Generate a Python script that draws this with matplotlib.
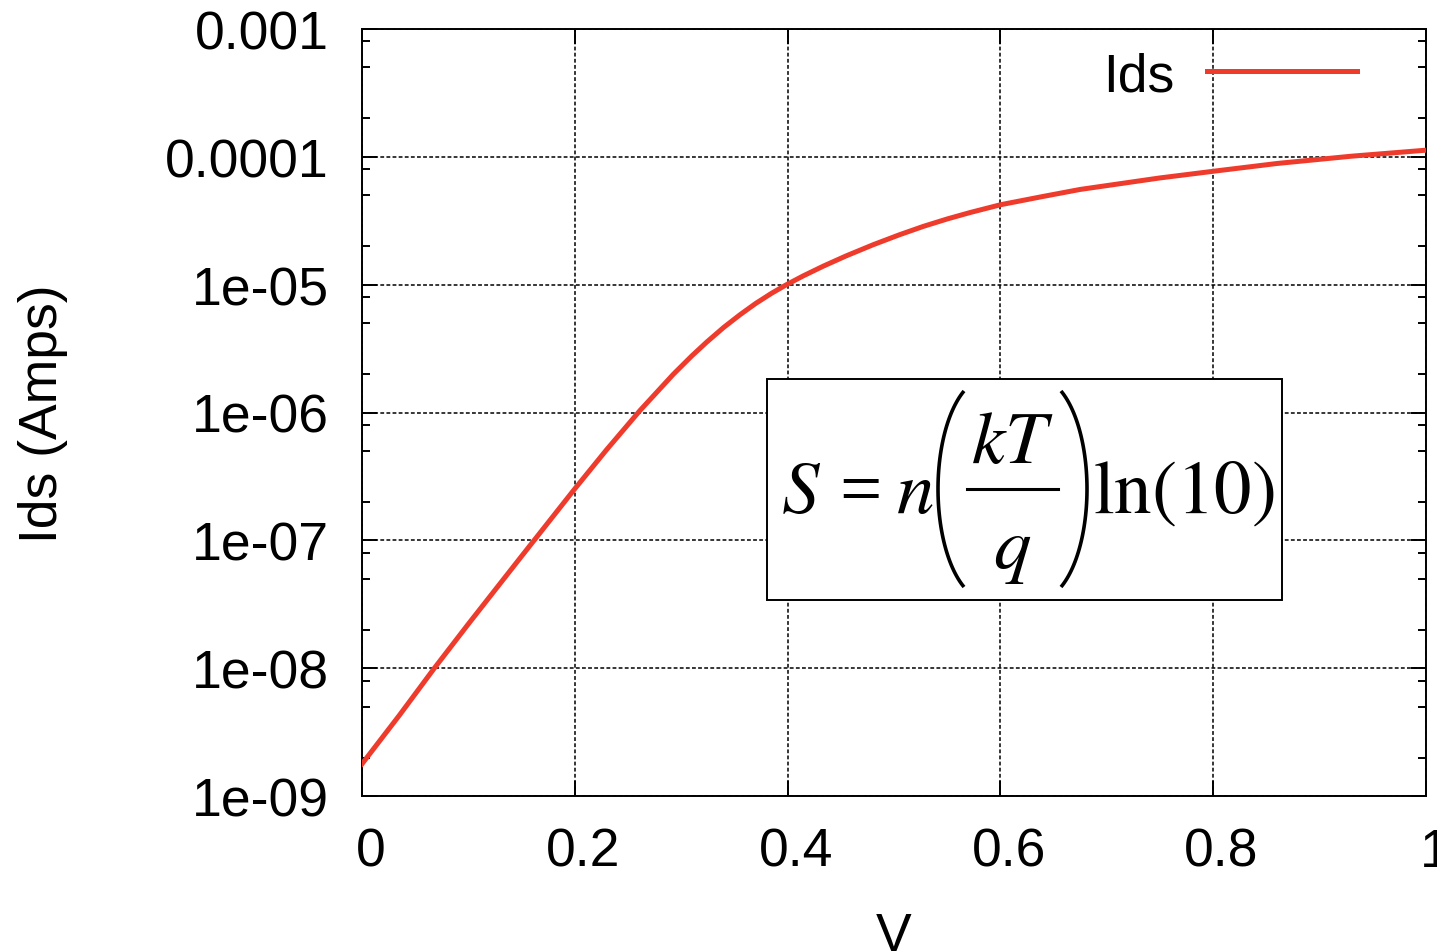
import numpy as np
import matplotlib
matplotlib.use("Agg")
import matplotlib.pyplot as plt
from matplotlib.patches import Rectangle
from matplotlib.lines import Line2D
from matplotlib.transforms import ScaledTranslation
import matplotlib.ticker as mticker

############ Data ############
v = [0.0, 0.035, 0.068, 0.1, 0.15, 0.2, 0.23, 0.2613, 0.2926, 0.31, 0.324,
     0.34, 0.3553, 0.37, 0.385, 0.399, 0.415, 0.4336, 0.455, 0.4806, 0.505,
     0.5276, 0.55, 0.5714, 0.6, 0.64, 0.675, 0.75, 0.8, 0.86, 0.93, 1.0]
log_ids = [-8.749, -8.37, -8.0, -7.654, -7.124, -6.597, -6.29, -5.984, -5.701,
           -5.557, -5.449, -5.334, -5.235, -5.147, -5.067, -5.0, -4.93,
           -4.855, -4.775, -4.687, -4.61, -4.544, -4.486, -4.436, -4.375,
           -4.31, -4.255, -4.165, -4.113, -4.052, -3.995, -3.948]
ids = [10 ** x for x in log_ids]

x_ticks = [0, 0.2, 0.4, 0.6, 0.8, 1]
x_labels = ["0", "0.2", "0.4", "0.6", "0.8", "1"]
y_ticks = [1e-9, 1e-8, 1e-7, 1e-6, 1e-5, 1e-4, 1e-3]
y_labels = ["1e-09", "1e-08", "1e-07", "1e-06", "1e-05", "0.0001", "0.001"]

############ Style ############
plt.rcParams['font.family'] = ['Liberation Sans', 'DejaVu Sans']
plt.rcParams['mathtext.fontset'] = 'stix'
fs = 38.5
red = "#ef3b2c"

fig = plt.figure(figsize=(14.37, 9.53), dpi=100)
ax = fig.add_axes([362 / 1437, 1 - 797 / 953, 1064 / 1437, 767 / 953])

ax.plot(v, ids, color=red, linewidth=3.6, label="Ids", zorder=3)
ax.set_yscale("log")
ax.set_xlim(0, 1)
ax.set_ylim(1e-9, 1e-3)

ax.xaxis.set_major_locator(mticker.FixedLocator(x_ticks))
ax.xaxis.set_major_formatter(mticker.FixedFormatter(x_labels))
ax.yaxis.set_major_locator(mticker.FixedLocator(y_ticks))
ax.yaxis.set_major_formatter(mticker.FixedFormatter(y_labels))
ax.yaxis.set_minor_locator(mticker.LogLocator(base=10, subs=(2, 5, 8), numticks=20))
ax.yaxis.set_minor_formatter(mticker.NullFormatter())
ax.xaxis.set_minor_locator(mticker.NullLocator())

ax.tick_params(which="major", direction="in", length=11, width=1.4,
               top=True, right=True, labelsize=fs, pad=24, colors="black")
ax.tick_params(which="minor", direction="in", length=6, width=1.4,
               left=True, right=True)
ax.tick_params(axis="x", pad=22)

for lbl in ax.get_xticklabels():
    lbl.set_transform(lbl.get_transform() + ScaledTranslation(6 / 72, 0, fig.dpi_scale_trans))

for s in ax.spines.values():
    s.set_linewidth(1.4)
    s.set_color("black")

ax.grid(True, which="major", color="black", linestyle=(0, (2.5, 1.5)), linewidth=1.1)
ax.set_axisbelow(True)

ax.set_xlabel("V", fontsize=fs, labelpad=25)
ax.set_ylabel("Ids (Amps)", fontsize=fs, labelpad=70)

leg = ax.legend(loc="upper right", frameon=False, fontsize=fs, markerfirst=False,
                handlelength=2.8, handletextpad=0.6, borderaxespad=0.2,
                bbox_to_anchor=(0.965, 1.013))

############ formula box (pixel positions of the reference) ############
def axpt(px, py):
    return ((px - 362) / 1064, (797 - py) / 767)

box = Rectangle(axpt(767, 601), 515 / 1064, 221 / 767, transform=ax.transAxes,
                facecolor="white", edgecolor="black", linewidth=1.4, zorder=4)
ax.add_patch(box)

fs_eq = 54
serif = "Liberation Serif"
ax.text(*axpt(781, 513), r"$S$", transform=ax.transAxes, ha="left", va="baseline",
        fontsize=fs_eq, zorder=5)
ax.text(*axpt(860, 513), "=", transform=ax.transAxes, ha="center", va="baseline",
        fontsize=fs_eq, family=serif, zorder=5)
ax.text(*axpt(896, 513), r"$n$", transform=ax.transAxes, ha="left", va="baseline",
        fontsize=fs_eq, zorder=5)
ax.text(*axpt(1012, 463), r"$kT$", transform=ax.transAxes, ha="center", va="baseline",
        fontsize=fs_eq, zorder=5)
ax.text(*axpt(1012, 569), r"$q$", transform=ax.transAxes, ha="center", va="baseline",
        fontsize=fs_eq, zorder=5)
ax.text(*axpt(1093, 513), r"$\mathrm{ln}(10)$", transform=ax.transAxes, ha="left",
        va="baseline", fontsize=fs_eq, zorder=5)

# fraction bar
x0, y0 = axpt(967, 490)
x1, _ = axpt(1058, 490)
ax.add_line(Line2D([x0, x1], [y0, y0], transform=ax.transAxes, color="black",
                   linewidth=2.2, zorder=5))

# big parentheses drawn as elliptic arcs (in pixels, then to axes fractions)
t = np.deg2rad(np.linspace(118, 242, 60))
for xc, sign in [(987, 1), (1038, -1)]:
    px = xc + sign * 49 * np.cos(t)
    py = 490 - 111 * np.sin(t)
    ax.add_line(Line2D((px - 362) / 1064, (797 - py) / 767, transform=ax.transAxes,
                       color="black", linewidth=2.6, zorder=5, solid_capstyle="butt"))

plt.savefig("out.png", dpi=100)
